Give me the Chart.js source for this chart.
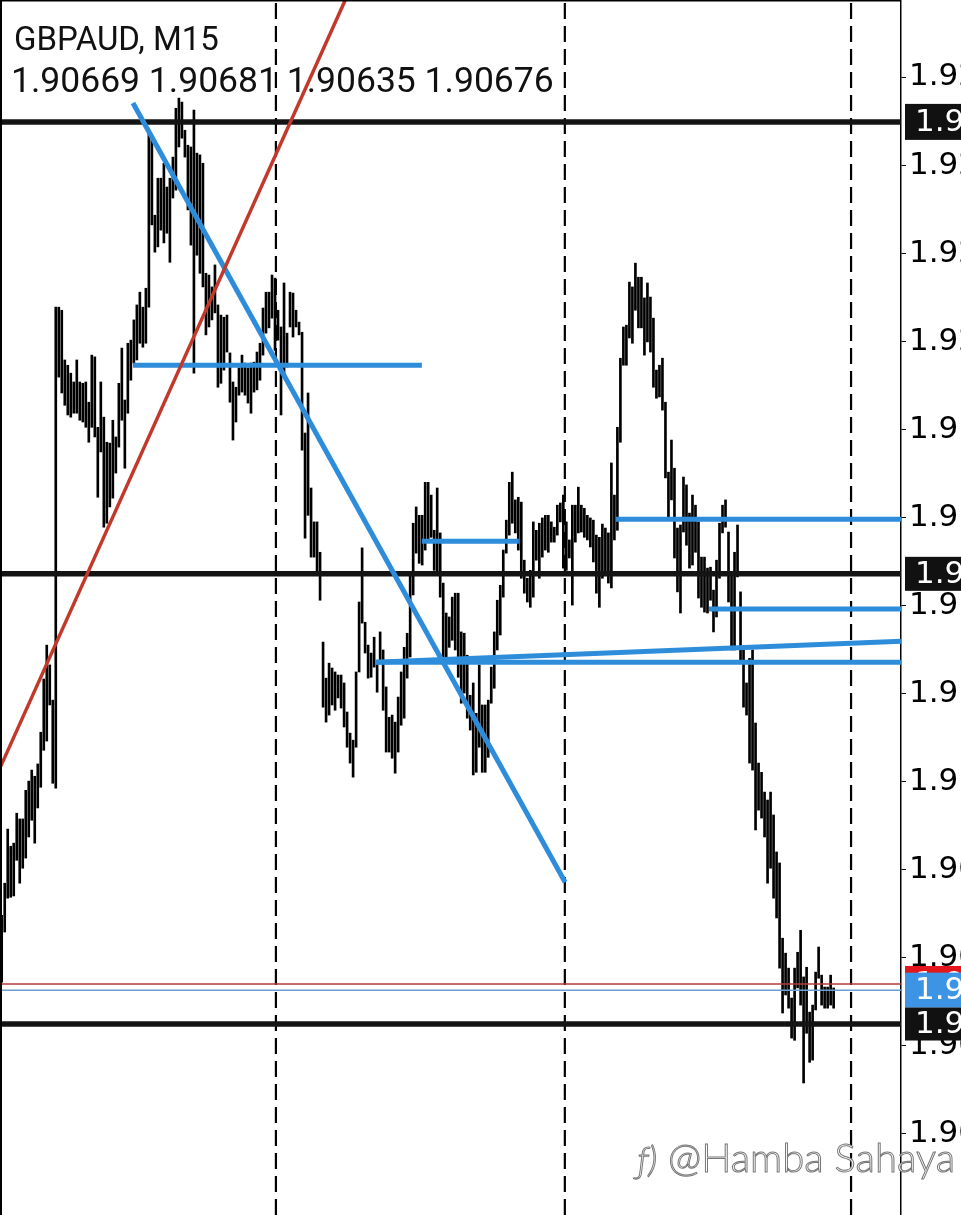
<!DOCTYPE html>
<html>
<head>
<meta charset="utf-8">
<script src="https://cdn.jsdelivr.net/npm/chart.js@4.4.1/dist/chart.umd.min.js"></script>
<style>
  html, body { margin: 0; padding: 0; background: #fff; }
  #wrap { width: 961px; height: 1215px; position: relative; }
</style>
</head>
<body>
<div id="wrap"><canvas id="chart"></canvas></div>
<script>
// --- data (GBPAUD M15, bar highs / lows) ---
const symbol = 'GBPAUD, M15';
const lastOHLC = [1.90669, 1.90681, 1.90635, 1.90676];

const barHigh = [
  1.90846, 1.90919, 1.91042, 1.91003, 1.91010, 1.91078, 1.91065, 1.91065, 1.91130, 1.91151,
  1.91176, 1.91162, 1.91190, 1.91262, 1.91383, 1.91460, 1.91415, 1.91335, 1.92228, 1.92228,
  1.92221, 1.92108, 1.92096, 1.92078, 1.92058, 1.92108, 1.92058, 1.92055, 1.92058, 1.92012,
  1.92119, 1.92115, 1.91955, 1.92058, 1.91978, 1.91921, 1.91919, 1.91971, 1.91933, 1.92055,
  1.92135, 1.92017, 1.92146, 1.92153, 1.92199, 1.92233, 1.92262, 1.92228, 1.92271, 1.92630,
  1.92608, 1.92437, 1.92521, 1.92521, 1.92555, 1.92501, 1.92521, 1.92569, 1.92680, 1.92703,
  1.92694, 1.92630, 1.92596, 1.92592, 1.92676, 1.92578, 1.92574, 1.92555, 1.92305, 1.92301,
  1.92274, 1.92324, 1.92233, 1.92210, 1.92205, 1.92210, 1.92124, 1.92058, 1.92046, 1.92090,
  1.92119, 1.92101, 1.92090, 1.92101, 1.92103, 1.92126, 1.92146, 1.92226, 1.92262, 1.92262,
  1.92301, 1.92294, 1.92221, 1.92183, 1.92283, 1.92169, 1.92262, 1.92260, 1.92221, 1.92194,
  1.92171, 1.91942, 1.92033, 1.91817, 1.91740, 1.91740, 1.91671, 1.91467, 1.91385, 1.91419,
  1.91408, 1.91399, 1.91392, 1.91392, 1.91374, 1.91308, 1.91260, 1.91244, 1.91399, 1.91558,
  1.91681, 1.91512, 1.91460, 1.91442, 1.91478, 1.91419, 1.91490, 1.91449, 1.91365, 1.91296,
  1.91301, 1.91285, 1.91342, 1.91399, 1.91455, 1.91487, 1.91619, 1.91737, 1.91774, 1.91755,
  1.91755, 1.91830, 1.91830, 1.91801, 1.91721, 1.91817, 1.91715, 1.91601, 1.91533, 1.91524,
  1.91569, 1.91578, 1.91578, 1.91490, 1.91487, 1.91437, 1.91346, 1.91374, 1.91305, 1.91415,
  1.91324, 1.91324, 1.91335, 1.91410, 1.91490, 1.91562, 1.91596, 1.91676, 1.91744, 1.91830,
  1.91853, 1.91790, 1.91796, 1.91785, 1.91653, 1.91612, 1.91630, 1.91740, 1.91721, 1.91737,
  1.91749, 1.91755, 1.91755, 1.91740, 1.91728, 1.91778, 1.91783, 1.91801, 1.91740, 1.91699,
  1.91778, 1.91778, 1.91819, 1.91778, 1.91771, 1.91755, 1.91749, 1.91744, 1.91710, 1.91705,
  1.91735, 1.91726, 1.91715, 1.91874, 1.91801, 1.91955, 1.92112, 1.92183, 1.92187, 1.92285,
  1.92274, 1.92328, 1.92296, 1.92296, 1.92249, 1.92283, 1.92251, 1.92203, 1.92085, 1.92096,
  1.92112, 1.92012, 1.91853, 1.91926, 1.91862, 1.91726, 1.91733, 1.91842, 1.91824, 1.91760,
  1.91801, 1.91778, 1.91740, 1.91660, 1.91660, 1.91635, 1.91637, 1.91585, 1.91653, 1.91737,
  1.91778, 1.91790, 1.91717, 1.91626, 1.91671, 1.91733, 1.91581, 1.91449, 1.91374, 1.91430,
  1.91449, 1.91283, 1.91192, 1.91171, 1.91126, 1.91108, 1.91126, 1.91074, 1.90990, 1.90965,
  1.90794, 1.90760, 1.90726, 1.90658, 1.90726, 1.90762, 1.90812, 1.90706, 1.90728, 1.90626,
  1.90642, 1.90717, 1.90774, 1.90710, 1.90683, 1.90683, 1.90710, 1.90681
];

const barLow = [
  1.90694, 1.90808, 1.90885, 1.90887, 1.90890, 1.90971, 1.90919, 1.90953, 1.90976, 1.91024,
  1.91062, 1.91010, 1.91090, 1.91137, 1.91221, 1.91242, 1.91324, 1.91146, 1.91135, 1.92069,
  1.92033, 1.92005, 1.91983, 1.91978, 1.91987, 1.91987, 1.91971, 1.91967, 1.91955, 1.91921,
  1.91955, 1.91933, 1.91796, 1.91899, 1.91728, 1.91737, 1.91774, 1.91794, 1.91851, 1.91910,
  1.91971, 1.91862, 1.91987, 1.92062, 1.92101, 1.92108, 1.92146, 1.92137, 1.92146, 1.92228,
  1.92415, 1.92353, 1.92365, 1.92403, 1.92374, 1.92396, 1.92330, 1.92476, 1.92494, 1.92592,
  1.92612, 1.92569, 1.92449, 1.92369, 1.92078, 1.92346, 1.92305, 1.92274, 1.92165, 1.92183,
  1.92199, 1.92215, 1.92046, 1.92055, 1.92085, 1.92126, 1.92012, 1.91926, 1.91967, 1.92028,
  1.92035, 1.92028, 1.92010, 1.91987, 1.92035, 1.92040, 1.92062, 1.92119, 1.92169, 1.92181,
  1.92203, 1.92130, 1.92153, 1.91983, 1.92069, 1.92092, 1.92183, 1.92160, 1.92183, 1.92165,
  1.91903, 1.91703, 1.91755, 1.91660, 1.91660, 1.91624, 1.91562, 1.91319, 1.91285, 1.91301,
  1.91324, 1.91312, 1.91340, 1.91317, 1.91274, 1.91228, 1.91192, 1.91160, 1.91228, 1.91399,
  1.91510, 1.91442, 1.91385, 1.91387, 1.91410, 1.91353, 1.91421, 1.91312, 1.91217, 1.91217,
  1.91203, 1.91169, 1.91217, 1.91278, 1.91294, 1.91385, 1.91433, 1.91574, 1.91669, 1.91646,
  1.91642, 1.91676, 1.91694, 1.91705, 1.91630, 1.91624, 1.91569, 1.91430, 1.91433, 1.91455,
  1.91471, 1.91449, 1.91387, 1.91328, 1.91351, 1.91294, 1.91267, 1.91165, 1.91171, 1.91228,
  1.91171, 1.91171, 1.91205, 1.91328, 1.91362, 1.91449, 1.91483, 1.91569, 1.91669, 1.91710,
  1.91737, 1.91715, 1.91676, 1.91612, 1.91578, 1.91558, 1.91546, 1.91569, 1.91653, 1.91612,
  1.91660, 1.91676, 1.91671, 1.91694, 1.91694, 1.91710, 1.91740, 1.91635, 1.91630, 1.91658,
  1.91551, 1.91694, 1.91715, 1.91717, 1.91705, 1.91699, 1.91683, 1.91649, 1.91578, 1.91546,
  1.91612, 1.91628, 1.91601, 1.91590, 1.91699, 1.91721, 1.91921, 1.92096, 1.92096, 1.92158,
  1.92146, 1.92221, 1.92181, 1.92181, 1.92119, 1.92149, 1.92126, 1.92046, 1.92021, 1.92024,
  1.91994, 1.91840, 1.91751, 1.91790, 1.91658, 1.91581, 1.91533, 1.91717, 1.91687, 1.91635,
  1.91642, 1.91671, 1.91567, 1.91546, 1.91535, 1.91533, 1.91562, 1.91490, 1.91524, 1.91612,
  1.91715, 1.91728, 1.91558, 1.91449, 1.91449, 1.91615, 1.91426, 1.91319, 1.91301, 1.91192,
  1.91176, 1.91040, 1.91085, 1.91067, 1.91024, 1.90919, 1.90953, 1.90885, 1.90840, 1.90726,
  1.90624, 1.90665, 1.90635, 1.90567, 1.90562, 1.90681, 1.90642, 1.90465, 1.90578, 1.90512,
  1.90517, 1.90631, 1.90703, 1.90642, 1.90635, 1.90635, 1.90642, 1.90635
];

const yTicks = [1.90350, 1.90550, 1.90750, 1.90950, 1.91150, 1.91350, 1.91550,
                1.91750, 1.91950, 1.92150, 1.92350, 1.92550, 1.92750];
const blackLevels = [1.92649, 1.91622, 1.90599];
const bidPrice = 1.90676;
const askPrice = 1.90690;
const daySeparators = [91.3, 187.5, 282.8];

// drawn objects: [x1, price1, x2, price2]
const redTrend = [-0.57, 1.91181, 120, 1.93011];
const blueLines = [
  [43.7, 1.92692, 187.6, 1.90921],
  [43.7, 1.92096, 139.9, 1.92096],
  [139.9, 1.91696, 172.2, 1.91696],
  [204.5, 1.91746, 299.43, 1.91746],
  [235.5, 1.91542, 299.43, 1.91542],
  [124.3, 1.91421, 299.43, 1.91469],
  [124.3, 1.91421, 299.43, 1.91421]
];

const X_MIN = -0.57, X_MAX = 299.43;
const Y_MIN = 1.90165, Y_MAX = 1.92926;

function seg(p, color, width, order, dash) {
  return {
    type: 'line',
    data: [{ x: p[0], y: p[1] }, { x: p[2], y: p[3] }],
    borderColor: color,
    borderWidth: width,
    borderDash: dash || [],
    pointRadius: 0,
    fill: false,
    tension: 0,
    order: order
  };
}

const datasets = [];
datasets.push(seg([X_MIN, bidPrice, X_MAX, bidPrice], '#6a9fd0', 1.5, 2));
datasets.push(seg([X_MIN, askPrice, X_MAX, askPrice], '#b83a3a', 1.5, 2));
blackLevels.forEach(v => datasets.push(seg([X_MIN, v, X_MAX, v], '#141414', 5.5, 1)));
datasets.push(seg(redTrend, '#c0392b', 3.5, 0));
blueLines.forEach(l => datasets.push(seg(l, '#2e8ddb', 5, 0)));
daySeparators.forEach(s => datasets.push(seg([s, Y_MIN, s, Y_MAX], '#000', 2.2, 30, [16, 7])));
datasets.push({
  type: 'bar',
  data: barHigh.map((h, i) => ({ x: i, y: [barLow[i], h] })),
  backgroundColor: '#000',
  borderWidth: 0,
  barThickness: 2,
  order: 10
});

const overlay = {
  id: 'overlay',
  beforeDatasetsDraw(chart) {
    const ctx = chart.ctx;
    ctx.save();
    ctx.fillStyle = '#111';
    ctx.textBaseline = 'alphabetic';
    ctx.font = '33px Roboto';
    ctx.fillText(symbol, 14, 50);
    ctx.font = '35.5px Roboto';
    ctx.fillText(lastOHLC.map(v => v.toFixed(5)).join(' '), 11, 92);
    ctx.restore();
  },
  afterDraw(chart) {
    const ctx = chart.ctx;
    const y = chart.scales.y;
    const area = chart.chartArea;
    ctx.save();
    // frame
    ctx.strokeStyle = '#000';
    ctx.lineWidth = 2;
    ctx.beginPath();
    ctx.moveTo(1, chart.height);
    ctx.lineTo(1, 0.5);
    ctx.lineTo(area.right, 0.5);
    ctx.stroke();
    // price boxes on the axis
    const box = (v, bg, fg, h) => {
      const py = y.getPixelForValue(v);
      ctx.fillStyle = bg;
      ctx.fillRect(area.right + 4, py - h / 2, 70, h);
      ctx.fillStyle = fg;
      ctx.font = '31px "DejaVu Sans"';
      ctx.textBaseline = 'middle';
      ctx.fillText(v.toFixed(5), area.right + 14, py + 1);
    };
    box(blackLevels[0], '#111', '#fff', 36);
    box(blackLevels[1], '#111', '#fff', 34);
    box(askPrice, '#e3161c', '#fff', 36);
    box(bidPrice, '#3d94e4', '#fff', 35);
    box(blackLevels[2], '#111', '#fff', 33);
    // watermark
    ctx.textBaseline = 'alphabetic';
    ctx.fillStyle = '#fff';
    ctx.strokeStyle = '#777';
    ctx.lineWidth = 1;
    ctx.font = 'italic 300 36px Lato';
    ctx.fillText('ƒ)', 638, 1172);
    ctx.strokeText('ƒ)', 638, 1172);
    ctx.font = '300 40px Lato';
    ctx.fillText('@Hamba Sahaya', 668, 1172);
    ctx.strokeText('@Hamba Sahaya', 668, 1172);
    ctx.restore();
  }
};

new Chart(document.getElementById('chart'), {
  type: 'bar',
  data: { datasets },
  plugins: [overlay],
  options: {
    responsive: true,
    maintainAspectRatio: false,
    animation: false,
    layout: { padding: 0 },
    plugins: { legend: { display: false }, tooltip: { enabled: false } },
    scales: {
      x: { type: 'linear', min: X_MIN, max: X_MAX, display: false, offset: false },
      y: {
        position: 'right',
        min: Y_MIN,
        max: Y_MAX,
        afterBuildTicks: s => { s.ticks = yTicks.map(v => ({ value: v })); },
        afterFit: s => { s.width = 60; s.paddingTop = 0; s.paddingBottom = 0; },
        grid: { drawOnChartArea: false, drawTicks: true, tickLength: 5, color: '#000', lineWidth: 1 },
        border: { display: true, color: '#000', width: 1.5 },
        ticks: {
          color: '#000',
          padding: 3,
          font: { family: 'DejaVu Sans', size: 31 },
          callback: v => v.toFixed(5)
        }
      }
    }
  }
});
</script>
</body>
</html>
